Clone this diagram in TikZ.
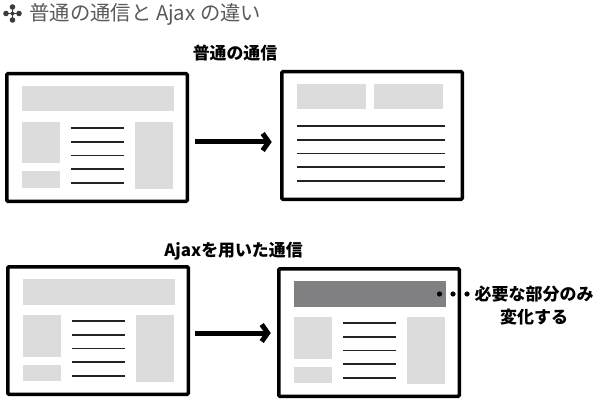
\documentclass[tikz,border=0pt]{standalone}
\usepackage{fontspec}
\setmainfont{Noto Sans CJK JP}
\usetikzlibrary{arrows.meta,calc}
\definecolor{lightfill}{RGB}{220,220,221}
\definecolor{darkfill}{RGB}{128,128,130}
\definecolor{titlegray}{RGB}{90,90,90}
\definecolor{linegray}{RGB}{35,35,35}
\definecolor{icongray}{RGB}{60,60,60}
\tikzset{
  win/.style={draw=black, line width=3.5pt, minimum width=180.5pt, minimum height=127.5pt,
    inner sep=0pt, outer sep=0pt, anchor=north west, rounded corners=1pt},
  textline/.style={draw=linegray, line width=1.6pt},
  bigarrow/.style={line width=5pt, -{Straight Barb[length=6pt,width=17pt]}},
  heading/.style={font=\fontsize{16.9}{20}\selectfont\bfseries, inner sep=0pt},
  note/.style={font=\fontsize{17}{23}\selectfont\bfseries, inner sep=0pt, align=center},
  titletext/.style={font=\fontsize{20.3}{22}\selectfont, text=titlegray, inner sep=0pt, anchor=west},
  dot/.style={fill=black}
}
\newcommand\pagelayout[3]{%
  \begin{scope}[shift={(#1,#2)}]
    \fill[#3] (16.5,14) rectangle (168.5,39.5);
    \fill[lightfill] (16.5,50) rectangle (54.5,91.5);
    \fill[lightfill] (16.5,99.5) rectangle (54.5,116);
    \fill[lightfill] (129.5,50) rectangle (167.5,117);
    \foreach \yy in {56,70,83.5,97,111}
      \draw[textline] (65.5,\yy) -- (118.5,\yy);
  \end{scope}}
\begin{document}
\begin{tikzpicture}[x=1pt,y=-1pt]
\useasboundingbox (0,0) rectangle (600,401);
% title icon
\draw[icongray, line width=1.4pt] (12.5,7) -- (12.5,20) (6,13.5) -- (19,13.5);
\foreach \p in {(12.5,7),(12.5,20),(6,13.5),(19,13.5)}
  \fill[icongray] \p circle (2.8pt);
\fill[icongray] (12.5,13.5) circle (2pt);
\node[titletext] (title) at (29.5,14) {普通の通信と Ajax の違い};
% headings
\node[heading] (h1) at (235,53) {普通の通信};
\node[heading] (h2) at (233.5,251) {Ajaxを用いた通信};
% windows
\node[win] (w1) at (6.75,73.75) {};
\node[win] (w2) at (281.75,71.75) {};
\node[win] (w3) at (7.75,266.75) {};
\node[win] (w4) at (278.75,268.75) {};
% contents
\pagelayout{5}{72}{lightfill}
\pagelayout{6}{265}{lightfill}
\pagelayout{277}{267}{darkfill}
\begin{scope}[shift={(280,70)}]
  \fill[lightfill] (17,14) rectangle (86,39);
  \fill[lightfill] (94,14) rectangle (163,39);
  \foreach \yy in {56,70,83.5,97,111}
    \draw[textline] (17,\yy) -- (165,\yy);
\end{scope}
% arrows
\draw[bigarrow] ($(w1.east)+(7.75,4.5)$) -- ($(w2.west)+(-10,6.5)$);
\draw[bigarrow] ($(w3.east)+(6.75,2.5)$) -- ($(w4.west)+(-8,0.5)$);
% note
\fill[dot] (439.5,294) circle (2.6pt);
\fill[dot] (453,294) circle (2.6pt);
\fill[dot] (467,294) circle (2.6pt);
\node[note] (n1) at (534,305.5) {必要な部分のみ\\変化する};
\end{tikzpicture}
\end{document}
